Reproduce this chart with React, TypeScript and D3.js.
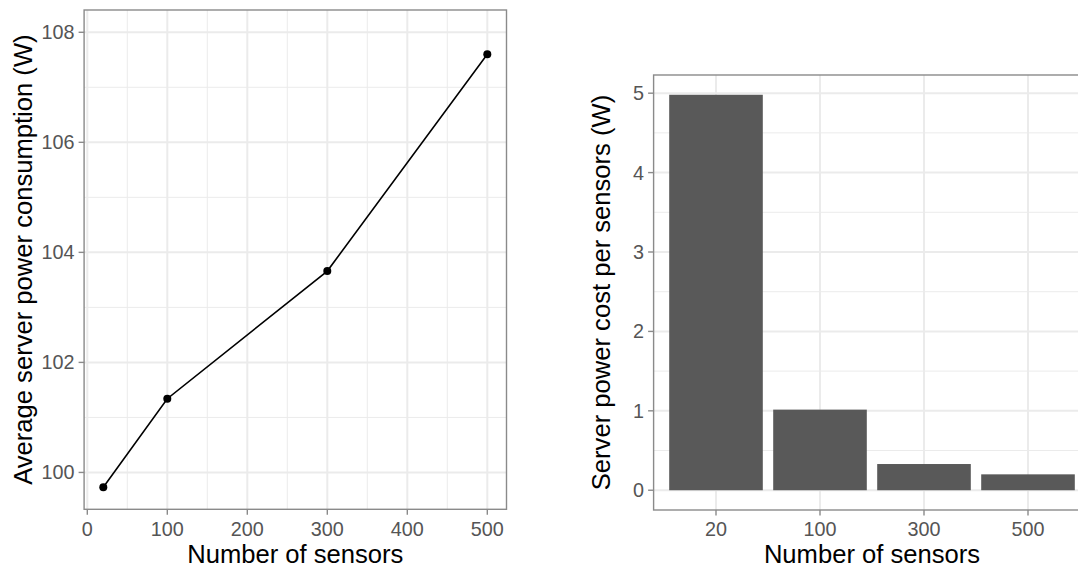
import React from "react";
import * as d3 from "d3";

const sensors = [20, 100, 300, 500];
const avgPower = [99.73, 101.34, 103.66, 107.6];
const sensorLabels = ["20", "100", "300", "500"];
const costPerSensor = [4.98, 1.015, 0.33, 0.2];
const leftXTicks = [0, 100, 200, 300, 400, 500];
const leftXMinor = [50, 150, 250, 350, 450];
const leftYTicks = [100, 102, 104, 106, 108];
const leftYMinor = [101, 103, 105, 107];
const rightYTicks = [0, 1, 2, 3, 4, 5];
const rightYMinor = [0.5, 1.5, 2.5, 3.5, 4.5];

const FONT = "'Liberation Sans', Arial, Helvetica, sans-serif";
const GRID = "#EBEBEB";
const BORDER = "#8a8a8a";
const TICKTXT = "#555555";
const TICK_FS = 19.8;
const TITLE_FS = 25.6;

export default function App() {
  // Left panel
  const L = { x0: 84.1, x1: 506.5, y0: 10, y1: 509.3 };
  const lx = d3.scaleLinear().domain([-4, 524]).range([L.x0, L.x1]);
  const ly = d3.scaleLinear().domain([99.33, 108.405]).range([L.y1, L.y0]);
  const line = d3
    .line<number>()
    .x((_, i) => lx(sensors[i]))
    .y((d) => ly(d));

  // Right panel
  const R = { x0: 653.6, x1: 1090.4, y0: 75, y1: 510 };
  const rx = d3.scalePoint<string>().domain(sensorLabels).range([R.x0, R.x1]).padding(0.6);
  const ry = d3.scaleLinear().domain([-0.249, 5.229]).range([R.y1, R.y0]);
  const bw = rx.step() * 0.9;

  const tickLen = 5.5;

  return (
    <svg
      width={1078}
      height={568}
      style={{ position: "absolute", left: 0, top: 0, background: "#fff", fontFamily: FONT }}
    >
      <rect x={0} y={0} width={1078} height={568} fill="#fff" />
      {/* LEFT PANEL */}
      <g>
        {leftXMinor.map((v) => (
          <line key={"lxm" + v} x1={lx(v)} x2={lx(v)} y1={L.y0} y2={L.y1} stroke={GRID} strokeWidth={1} />
        ))}
        {leftYMinor.map((v) => (
          <line key={"lym" + v} x1={L.x0} x2={L.x1} y1={ly(v)} y2={ly(v)} stroke={GRID} strokeWidth={1} />
        ))}
        {leftXTicks.map((v) => (
          <line key={"lxM" + v} x1={lx(v)} x2={lx(v)} y1={L.y0} y2={L.y1} stroke={GRID} strokeWidth={2} />
        ))}
        {leftYTicks.map((v) => (
          <line key={"lyM" + v} x1={L.x0} x2={L.x1} y1={ly(v)} y2={ly(v)} stroke={GRID} strokeWidth={2} />
        ))}
        <path d={line(avgPower) || ""} fill="none" stroke="#000" strokeWidth={1.6} />
        {avgPower.map((v, i) => (
          <circle key={"pt" + i} cx={lx(sensors[i])} cy={ly(v)} r={4} fill="#000" />
        ))}
        <rect x={L.x0} y={L.y0} width={L.x1 - L.x0} height={L.y1 - L.y0} fill="none" stroke={BORDER} strokeWidth={1.4} />
        {leftXTicks.map((v) => (
          <g key={"lxt" + v}>
            <line x1={lx(v)} x2={lx(v)} y1={L.y1} y2={L.y1 + tickLen} stroke={BORDER} strokeWidth={1.4} />
            <text x={lx(v)} y={535.5} textAnchor="middle" fontSize={TICK_FS} fill={TICKTXT}>
              {v}
            </text>
          </g>
        ))}
        {leftYTicks.map((v) => (
          <g key={"lyt" + v}>
            <line x1={L.x0 - tickLen} x2={L.x0} y1={ly(v)} y2={ly(v)} stroke={BORDER} strokeWidth={1.4} />
            <text x={L.x0 - tickLen - 4} y={ly(v)} dy="0.35em" textAnchor="end" fontSize={TICK_FS} fill={TICKTXT}>
              {v}
            </text>
          </g>
        ))}
        <text x={(L.x0 + L.x1) / 2} y={563} textAnchor="middle" fontSize={TITLE_FS} fill="#000">
          Number of sensors
        </text>
        <text
          transform={`translate(31.5, ${(L.y0 + L.y1) / 2}) rotate(-90)`}
          textAnchor="middle"
          fontSize={TITLE_FS}
          fill="#000"
        >
          Average server power consumption (W)
        </text>
      </g>

      {/* RIGHT PANEL */}
      <g>
        {rightYMinor.map((v) => (
          <line key={"rym" + v} x1={R.x0} x2={R.x1} y1={ry(v)} y2={ry(v)} stroke={GRID} strokeWidth={1} />
        ))}
        {sensorLabels.map((c) => (
          <line key={"rxM" + c} x1={rx(c)} x2={rx(c)} y1={R.y0} y2={R.y1} stroke={GRID} strokeWidth={2} />
        ))}
        {rightYTicks.map((v) => (
          <line key={"ryM" + v} x1={R.x0} x2={R.x1} y1={ry(v)} y2={ry(v)} stroke={GRID} strokeWidth={2} />
        ))}
        {costPerSensor.map((v, i) => (
          <rect
            key={"bar" + i}
            x={(rx(sensorLabels[i]) as number) - bw / 2}
            y={ry(v)}
            width={bw}
            height={ry(0) - ry(v)}
            fill="#595959"
          />
        ))}
        <rect x={R.x0} y={R.y0} width={R.x1 - R.x0} height={R.y1 - R.y0} fill="none" stroke={BORDER} strokeWidth={1.4} />
        {sensorLabels.map((c) => (
          <g key={"rxt" + c}>
            <line x1={rx(c)} x2={rx(c)} y1={R.y1} y2={R.y1 + tickLen} stroke={BORDER} strokeWidth={1.4} />
            <text x={rx(c)} y={536} textAnchor="middle" fontSize={TICK_FS} fill={TICKTXT}>
              {c}
            </text>
          </g>
        ))}
        {rightYTicks.map((v) => (
          <g key={"ryt" + v}>
            <line x1={R.x0 - tickLen} x2={R.x0} y1={ry(v)} y2={ry(v)} stroke={BORDER} strokeWidth={1.4} />
            <text x={R.x0 - tickLen - 4} y={ry(v)} dy="0.35em" textAnchor="end" fontSize={TICK_FS} fill={TICKTXT}>
              {v}
            </text>
          </g>
        ))}
        <text x={(R.x0 + R.x1) / 2} y={563} textAnchor="middle" fontSize={TITLE_FS} fill="#000">
          Number of sensors
        </text>
        <text
          transform={`translate(610, ${(R.y0 + R.y1) / 2}) rotate(-90)`}
          textAnchor="middle"
          fontSize={TITLE_FS}
          fill="#000"
        >
          Server power cost per sensors (W)
        </text>
      </g>
    </svg>
  );
}
